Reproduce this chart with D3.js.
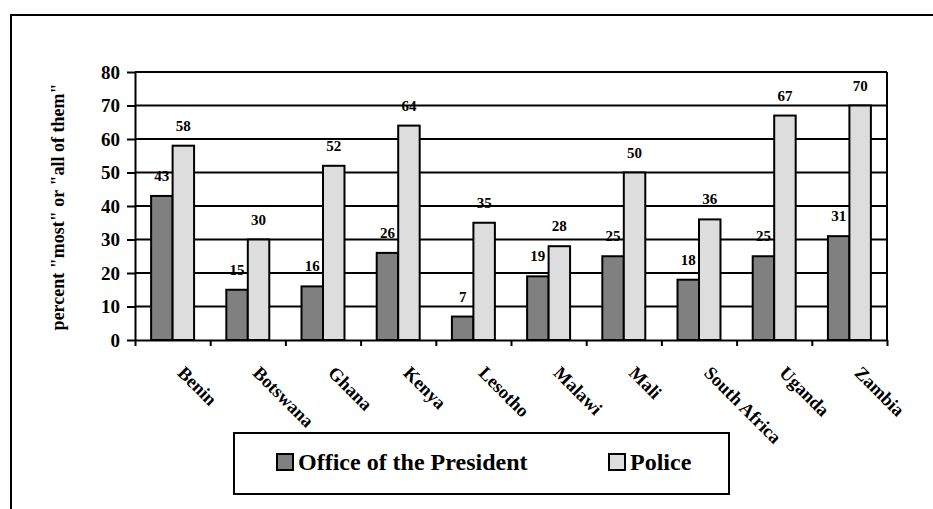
<!DOCTYPE html>
<html>
<head>
<meta charset="utf-8">
<script src="https://cdn.jsdelivr.net/npm/d3@7"></script>
<style>
  html, body { margin: 0; padding: 0; background: #fff; }
  svg { display: block; }
  svg text { font-family: "Liberation Serif", "Times New Roman", Times, "DejaVu Serif", serif !important; font-weight: bold; fill: #000; }
</style>
</head>
<body>
<svg id="chart" width="933" height="509"></svg>
<script>
// Countries along the category axis
const countries = ["Benin", "Botswana", "Ghana", "Kenya", "Lesotho", "Malawi", "Mali", "South Africa", "Uganda", "Zambia"];
// Series names
const seriesNames = ["Office of the President", "Police"];
// Percent saying "most" or "all of them" are involved in corruption
const presidentValues = [43, 15, 16, 26, 7, 19, 25, 18, 25, 31];
const policeValues = [58, 30, 52, 64, 35, 28, 50, 36, 67, 70];
// Value-axis ticks
const yTicks = [0, 10, 20, 30, 40, 50, 60, 70, 80];
const yTitle = 'percent "most" or "all of them"';

const seriesValues = [presidentValues, policeValues];
const seriesFill = ["#808080", "#dddddd"];
const serif = '"Liberation Serif", "Times New Roman", Times, "DejaVu Serif", serif';

const svg = d3.select("#chart");

// outer frame (only top and left edges fall inside the page)
svg.append("rect")
  .attr("x", 11).attr("y", 15)
  .attr("width", 1000).attr("height", 1000)
  .attr("fill", "none").attr("stroke", "#000").attr("stroke-width", 2);

const plot = { left: 135, right: 887, top: 72, bottom: 340 };

const x = d3.scaleBand().domain(countries).range([plot.left, plot.right]).padding(0);
const xs = d3.scaleBand().domain(seriesNames).range([0, x.bandwidth()])
  .paddingInner(0).paddingOuter(0.75);
const y = d3.scaleLinear().domain([0, 80]).range([plot.bottom, plot.top]);

// horizontal gridlines
svg.append("g")
  .selectAll("line")
  .data(yTicks.filter(t => t > 0))
  .join("line")
  .attr("x1", plot.left).attr("x2", plot.right)
  .attr("y1", d => y(d)).attr("y2", d => y(d))
  .attr("stroke", "#000").attr("stroke-width", 2);

// right edge of the plot area
svg.append("line")
  .attr("x1", plot.right).attr("x2", plot.right)
  .attr("y1", plot.top).attr("y2", plot.bottom)
  .attr("stroke", "#000").attr("stroke-width", 2);

// bars
const rows = countries.map((c, i) => ({ country: c, values: seriesNames.map((s, j) => ({ series: s, j, value: seriesValues[j][i] })) }));

const groups = svg.append("g")
  .selectAll("g")
  .data(rows)
  .join("g")
  .attr("transform", d => `translate(${x(d.country)},0)`);

groups.selectAll("rect")
  .data(d => d.values)
  .join("rect")
  .attr("x", d => xs(d.series))
  .attr("width", xs.bandwidth())
  .attr("y", d => y(d.value))
  .attr("height", d => y(0) - y(d.value))
  .attr("fill", d => seriesFill[d.j])
  .attr("stroke", "#000").attr("stroke-width", 2);

groups.selectAll("text")
  .data(d => d.values)
  .join("text")
  .attr("x", d => xs(d.series) + xs.bandwidth() / 2)
  .attr("y", d => y(d.value) - 15)
  .attr("text-anchor", "middle")
  .style("font-size", "15px")
  .text(d => d.value);

// value axis
const yAxis = svg.append("g")
  .attr("transform", `translate(${plot.left},0)`)
  .call(d3.axisLeft(y).tickValues(yTicks).tickSize(8).tickSizeOuter(0).tickPadding(7));
yAxis.attr("font-family", serif);
yAxis.select(".domain").attr("stroke", "#000").attr("stroke-width", 2);
yAxis.selectAll(".tick line").attr("stroke", "#000").attr("stroke-width", 2);
yAxis.selectAll(".tick text")
  .style("font-size", "19px")
  .attr("dy", "0.34em");

// category axis: tick marks sit between categories
const xEdge = d3.scaleLinear().domain([0, countries.length]).range([plot.left, plot.right]);
const xAxis = svg.append("g")
  .attr("transform", `translate(0,${plot.bottom})`)
  .call(d3.axisBottom(xEdge).ticks(countries.length).tickSize(6).tickSizeOuter(0).tickFormat(""));
xAxis.select(".domain").attr("stroke", "#000").attr("stroke-width", 2);
xAxis.selectAll(".tick line").attr("stroke", "#000").attr("stroke-width", 2);

// rotated category labels
const xLabels = svg.append("g")
  .attr("transform", `translate(0,${plot.bottom})`)
  .call(d3.axisBottom(x).tickSize(0).tickSizeOuter(0));
xLabels.attr("font-family", serif);
xLabels.select(".domain").remove();
xLabels.selectAll(".tick text")
  .attr("x", 0).attr("y", 0).attr("dy", 0)
  .attr("text-anchor", "start")
  .attr("transform", "translate(4,34) rotate(45)")
  .style("font-size", "18.5px");

// axis title
svg.append("text")
  .attr("transform", `translate(64,${(plot.top + plot.bottom) / 2 + 1}) rotate(-90)`)
  .attr("text-anchor", "middle")
  .style("font-size", "18px")
  .text(yTitle);

// legend
const legend = svg.append("g");
legend.append("rect")
  .attr("x", 234).attr("y", 433).attr("width", 495).attr("height", 61)
  .attr("fill", "#fff").attr("stroke", "#000").attr("stroke-width", 2);

const legendX = [277, 609];
const items = legend.selectAll("g.item")
  .data(seriesNames)
  .join("g")
  .attr("class", "item")
  .attr("transform", (d, i) => `translate(${legendX[i]},454)`);
items.append("rect")
  .attr("width", 16).attr("height", 16)
  .attr("fill", (d, i) => seriesFill[i])
  .attr("stroke", "#000").attr("stroke-width", 2);
items.append("text")
  .attr("x", 21).attr("y", 16)
  .style("font-size", "24px")
  .text(d => d);
</script>
</body>
</html>
